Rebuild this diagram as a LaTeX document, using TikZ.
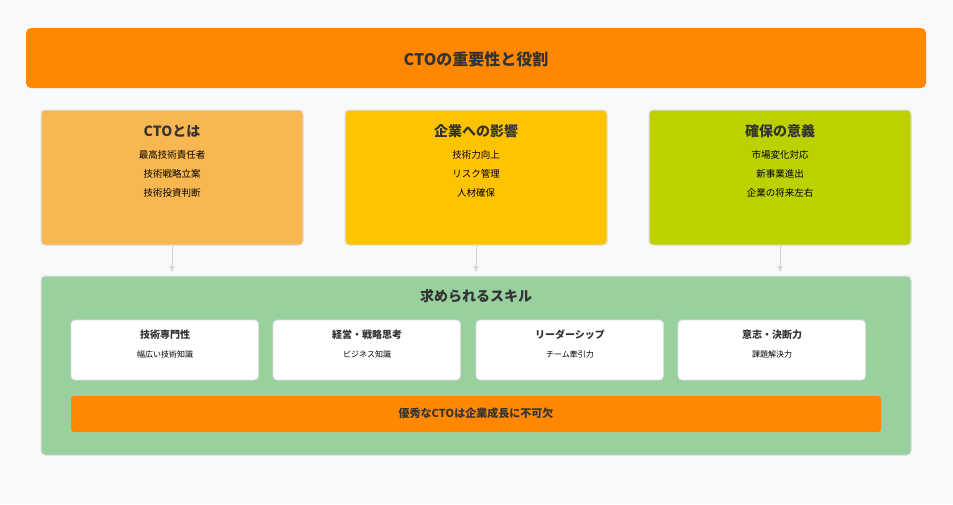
\documentclass[tikz,border=0pt]{standalone}
\usepackage{fontspec}
\setmainfont{Noto Sans CJK JP}
\usetikzlibrary{arrows.meta}
\definecolor{bg}{HTML}{F8F9FA}
\definecolor{orng}{HTML}{FF8800}
\definecolor{lorng}{HTML}{F8B750}
\definecolor{yel}{HTML}{FFC400}
\definecolor{lime}{HTML}{BDD100}
\definecolor{grn}{HTML}{98D19E}
\definecolor{txt}{HTML}{333333}
\definecolor{bord}{HTML}{DDDDDD}
\tikzset{
  box/.style={draw=bord, line width=1pt, rounded corners=4pt},
  ttl/.style={text=txt, font=\bfseries\fontsize{14}{16}\selectfont},
  itm/.style={text=black, font=\fontsize{9.5}{11}\selectfont},
  sttl/.style={text=txt, font=\bfseries\fontsize{10}{12}\selectfont},
  sitm/.style={text=black, font=\fontsize{8}{10}\selectfont},
  conn/.style={draw=bord!90!gray, line width=1pt, -{Triangle[length=6pt,width=5pt]}},
}
\begin{document}
\begin{tikzpicture}[x=1pt,y=-1pt]
\fill[bg] (0,0) rectangle (953,504);
\useasboundingbox (0,0) rectangle (953,504);
\fill[orng, rounded corners=5pt] (26,28) rectangle (926,88);
\node[text=txt, font=\bfseries\fontsize{16}{18}\selectfont] (title) at (476,59) {CTOの重要性と役割};
% three boxes
\draw[box, fill=lorng] (41,110) rectangle (303,245);
\draw[box, fill=yel] (345,110) rectangle (607,245);
\draw[box, fill=lime] (649,110) rectangle (911,245);
\node[ttl] (t1) at (172,131) {CTOとは};
\node[itm] (a1) at (172,155) {最高技術責任者};
\node[itm] (a2) at (172,174) {技術戦略立案};
\node[itm] (a3) at (172,193) {技術投資判断};
\node[ttl] (t2) at (476,131) {企業への影響};
\node[itm] (b1) at (476,155) {技術力向上};
\node[itm] (b2) at (476,174) {リスク管理};
\node[itm] (b3) at (476,193) {人材確保};
\node[ttl] (t3) at (780,131) {確保の意義};
\node[itm] (c1) at (780,155) {市場変化対応};
\node[itm] (c2) at (780,174) {新事業進出};
\node[itm] (c3) at (780,193) {企業の将来左右};
\coordinate (s1) at (172,245); \coordinate (e1) at (172,272);
\coordinate (s2) at (476,245); \coordinate (e2) at (476,272);
\coordinate (s3) at (780,245); \coordinate (e3) at (780,272);
\draw[conn] (s1) -- (e1);
\draw[conn] (s2) -- (e2);
\draw[conn] (s3) -- (e3);
% green box
\draw[box, fill=grn] (41,276) rectangle (911,455);
\node[ttl] (sk) at (476,296) {求められるスキル};
\foreach \x/\a/\b [count=\i] in {71/技術専門性/幅広い技術知識, 273/経営・戦略思考/ビジネス知識, 476/リーダーシップ/チーム牽引力, 678/意志・決断力/課題解決力}{
  \draw[box, fill=white, line width=0.8pt] (\x,320) rectangle ++(187.5,60);
  \node[sttl] (k\i) at (\x+94,335) {\a};
  \node[sitm] (m\i) at (\x+94,354) {\b};
}
\fill[orng, rounded corners=3pt] (71,396) rectangle (881,432);
\node[text=txt, font=\bfseries\fontsize{11}{13}\selectfont] (bot) at (476,413) {優秀なCTOは企業成長に不可欠};
\end{tikzpicture}
\end{document}
